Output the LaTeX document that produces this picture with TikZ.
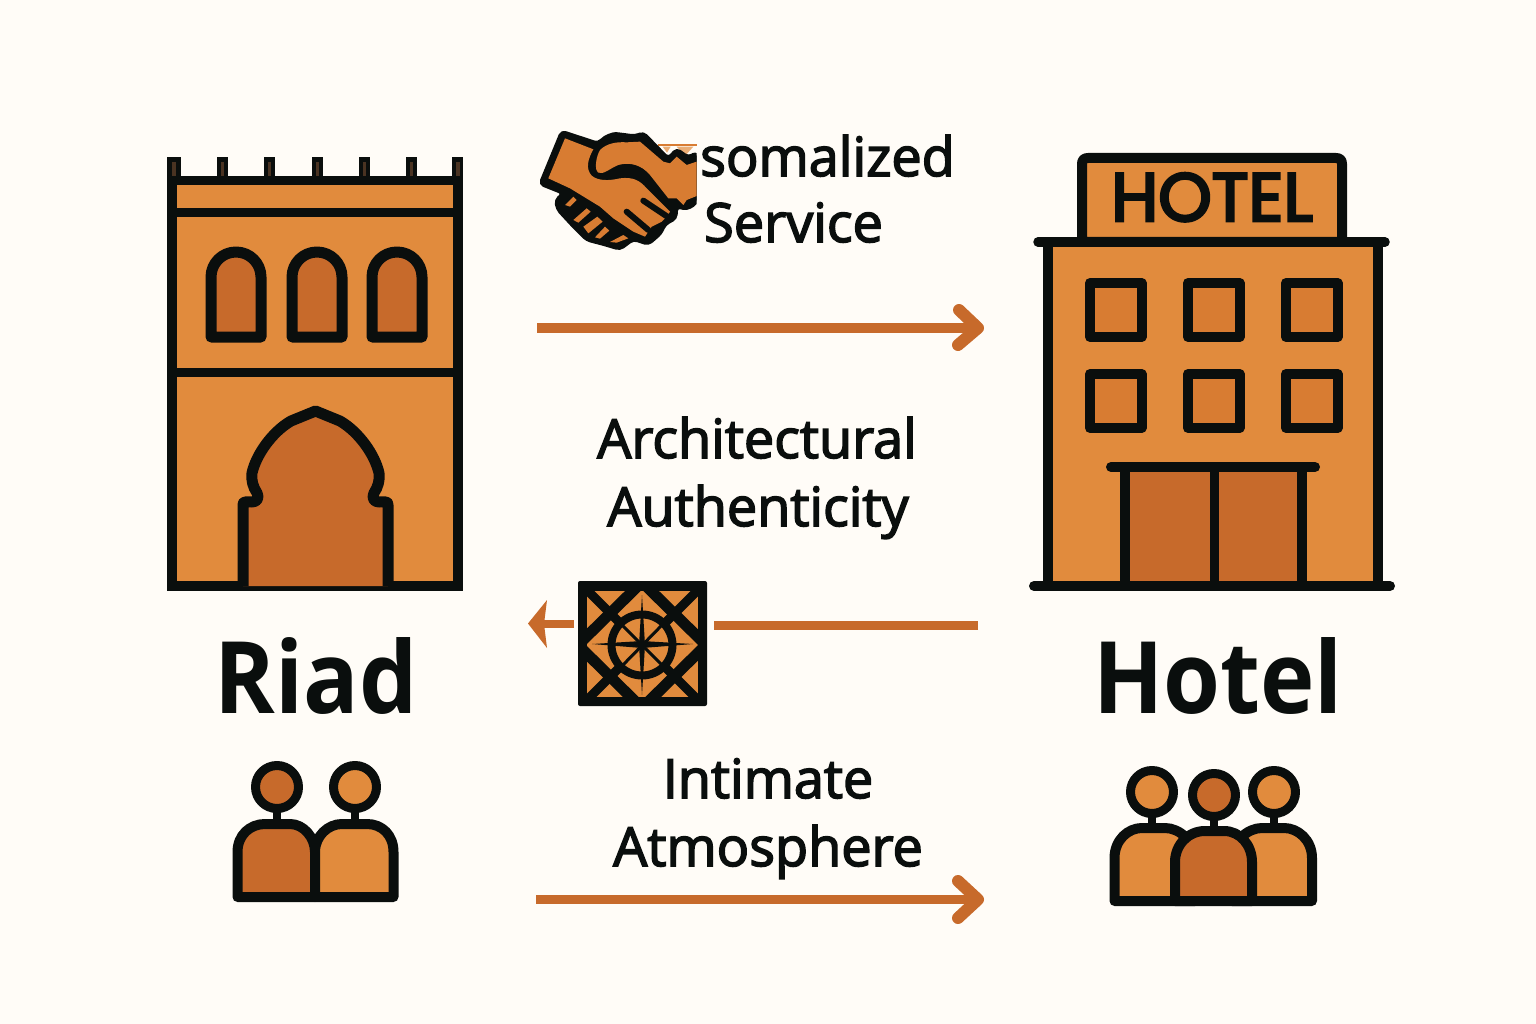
\documentclass[tikz,border=0pt]{standalone}
\usepackage{fontspec}
\setmainfont{Open Sans}
\newfontfamily\signfont[FakeBold=4]{Poppins}
\newfontfamily\labelfont[FakeBold=2.8]{Open Sans}
\newfontfamily\titlefont[FakeStretch=0.92]{Open Sans}
\definecolor{bgc}{HTML}{FFFCF7}
\definecolor{ink}{HTML}{0A0E0D}
\definecolor{mainor}{HTML}{E18B3D}
\definecolor{darkor}{HTML}{C76A2B}
\definecolor{winor}{HTML}{D87C32}
\definecolor{merl}{HTML}{4A3322}
\tikzset{
  x=1pt,y=-1pt,
  inkline/.style={draw=ink,line width=#1,line join=round},
  inkline/.default=10pt,
  small label/.style={font=\fontsize{54}{60}\selectfont\labelfont,text=ink,inner sep=0pt,anchor=base},
  big label/.style={font=\fontsize{100}{110}\selectfont\titlefont\bfseries,text=ink,inner sep=0pt,anchor=base},
  flow/.style={draw=darkor,line width=9.5pt},
  chevron/.style={draw=darkor,line width=12pt,line cap=round,line join=round},
}
\begin{document}
\begin{tikzpicture}
\useasboundingbox[fill=bgc] (0,0) rectangle (1536,1024);

%% ---------- Riad building
\foreach \mx in {222,269,317,364,411}{
  \fill[ink] (\mx-5.5,157) rectangle (\mx+5.5,180);
  \fill[merl] (\mx-1.5,162) rectangle (\mx+1.5,176);
}
\fill[ink] (167,157) rectangle (181,180);
\fill[ink] (452,157) rectangle (463,180);
\fill[merl] (172,162) rectangle (176,178);
\fill[merl] (456,162) rectangle (460,178);
\fill[ink] (167,176) rectangle (463,591);
\fill[mainor] (177,185) rectangle (453,208);
\fill[mainor] (177,217) rectangle (453,368);
\fill[mainor] (177,377) rectangle (453,581);
\foreach \wx/\wf in {211/darkor,292/darkor,372/darkor}{
  \path[inkline=11pt,fill=\wf] (\wx,337) -- (\wx,277) arc[start angle=180,end angle=360,radius=25] -- (\wx+50,337) -- cycle;
}
\path[inkline=11pt,fill=darkor] (243,586) -- (243,505) .. controls (243,501) and (246,502) .. (252,502)
  .. controls (258,502) and (259,497) .. (257,493) .. controls (253,487) and (251,480) .. (252,473)
  .. controls (256,455) and (272,432) .. (291,421) -- (315.5,411) -- (340,421)
  .. controls (359,432) and (375,455) .. (379,473) .. controls (380,480) and (378,487) .. (374,493)
  .. controls (372,497) and (373,502) .. (379,502) .. controls (385,502) and (388,501) .. (388,505)
  -- (388,586);

%% ---------- Hotel building
\path[inkline,fill=mainor] (1082,242) -- (1082,164) .. controls (1082,160) and (1084,158) .. (1088,158)
  -- (1336,158) .. controls (1340,158) and (1342,160) .. (1342,164) -- (1342,242) -- cycle;
\node[inner sep=0pt,anchor=base,text=ink,font=\fontsize{68}{72}\selectfont\signfont] (sign) at (1212,221) {HOTEL};
\fill[mainor] (1048,242) rectangle (1378,586);
\draw[ink,line width=10pt] (1048,242) -- (1048,586);
\draw[ink,line width=10pt] (1378,242) -- (1378,586);
\draw[ink,line width=9.5pt,line cap=round] (1038,242) -- (1385,242);
\foreach \hx in {1090,1188,1286}{
  \foreach \hy in {283,374}{
    \path[inkline,fill=winor] (\hx,\hy) rectangle (\hx+51.5,\hy+54);
  }
}
\fill[darkor] (1125,467) rectangle (1302,586);
\draw[ink,line width=10pt] (1125,467) -- (1125,586);
\draw[ink,line width=9pt] (1214,467) -- (1214,586);
\draw[ink,line width=10pt] (1302,467) -- (1302,586);
\draw[ink,line width=10pt,line cap=round] (1111,467) -- (1315,467);
\draw[ink,line width=10pt,line cap=round] (1034,586) -- (1390,586);

%% ---------- Labels
\node[small label,anchor=base west] (personal) at (700,176) {somalized};
\node[small label,anchor=base west] (service) at (704,242) {Service};
\node[small label] (arch) at (757,458) {Architectural};
\node[small label] (auth) at (758,526) {Authenticity};
\node[small label] (intim) at (768,798) {Intimate};
\node[small label] (atmos) at (768,866) {Atmosphere};
\node[big label] (riad) at (316,713) {Riad};
\node[big label] (hotel) at (1218,713) {Hotel};

%% ---------- Arrows
\coordinate (a1s) at (537,328);
\coordinate (a1e) at (978,328);
\coordinate (a1u) at (959,310);
\coordinate (a1l) at (958,345);
\draw[flow] (a1s) -- (a1e);
\draw[chevron] (a1u) -- (a1e) -- (a1l);
\coordinate (a3s) at (536,899.5);
\coordinate (a3e) at (978,899.5);
\coordinate (a3u) at (958,881);
\coordinate (a3l) at (958,918);
\draw[flow] (a3s) -- (a3e);
\draw[chevron] (a3u) -- (a3e) -- (a3l);

%% ---------- Tile with the backward arrow
\node[minimum width=129pt,minimum height=125pt,inner sep=0pt,fill=ink,rounded corners=2pt] (tile) at (642.5,643.5) {};
\coordinate (a2s) at (978,625);
\coordinate (a2f) at (714,625);
\coordinate (a2t) at (528,623.5);
\coordinate (a2n) at (544,624);
\coordinate (a2g) at (574,624);
\draw[flow,line width=9pt] (a2s) -- (a2f);
\draw[darkor,line width=8pt] (a2g) -- (a2n);
\fill[darkor] (a2t) -- (547,600) -- (a2n) -- (547,648) -- cycle;
\begin{scope}
  \clip (587,591) rectangle (698,697);
  \fill[mainor] (587,591) rectangle (698,697);
  \draw[ink,line width=11pt] (642,582) -- (706,645) -- (642,708) -- (578,645) -- cycle;
  \draw[ink,line width=9pt] (585,588) -- (621,624);
  \draw[ink,line width=9pt] (700,588) -- (664,624);
  \draw[ink,line width=9pt] (585,702) -- (621,666);
  \draw[ink,line width=9pt] (700,702) -- (664,666);
\end{scope}
\draw[ink,line width=8pt] (642,645) circle[radius=30.5];
\fill[ink] (642,595) -- (645,645) -- (642,695) -- (639,645) -- cycle;
\fill[ink] (592,644) -- (642,641) -- (693,644) -- (642,648) -- cycle;
\draw[ink,line width=3pt] (621,624) -- (664,667);
\draw[ink,line width=3pt] (663,624) -- (621,667);

%% ---------- Handshake
\begin{scope}[shift={(520,110)},scale=1/3]
  \fill[winor] (415,103) rectangle (530,108);
  \fill[mainor!70!bgc] (428,110) -- (452,110) -- (441,128) -- cycle;
  \fill[mainor!70!bgc] (470,110) -- (520,110) -- (495,138) -- cycle;
  \clip (0,0) rectangle (530,480);
  \path[draw=ink,fill=ink,line width=3pt,line join=round,rounded corners=4pt] (125,64) -- (235,100) .. controls (255,78) and (280,70) .. (300,72) -- (345,78) -- (370,68)
    -- (430,130) -- (445,145) -- (470,117) -- (505,142) -- (530,127) -- (530,280) -- (500,298) -- (470,290)
    -- (468,325) -- (435,343) -- (423,370) -- (385,403) -- (340,388) -- (300,418) -- (250,403)
    -- (200,390) -- (160,350) -- (112,298) -- (107,270) -- (130,250) -- (60,222) -- cycle;
  \fill[winor] (135,85) -- (220,118) .. controls (205,145) and (195,175) .. (215,197)
    .. controls (235,214) and (270,212) .. (300,205) .. controls (340,200) and (360,212) .. (380,235)
    -- (450,305) -- (440,320) -- (425,335) -- (395,350) -- (375,380) -- (340,365) -- (280,325) -- (240,290)
    -- (150,235) -- (85,205) -- cycle;
  \fill[winor] (240,120) .. controls (260,100) and (290,95) .. (320,97) -- (360,95) -- (430,155) -- (450,160)
    -- (470,140) -- (500,165) -- (530,155) -- (530,258) -- (500,270) -- (490,285) -- (470,265) -- (445,265)
    -- (390,195) .. controls (365,165) and (330,155) .. (295,165) .. controls (270,175) and (250,195) .. (235,188)
    .. controls (222,180) and (228,140) .. (240,120) -- cycle;
  \draw[ink,line width=6pt,line cap=round] (370,272) -- (445,322);
  \draw[ink,line width=6pt,line cap=round] (320,305) -- (385,360);
  \fill[winor] (135,285) -- (160,260) -- (170,270) -- (150,290) -- cycle;
  \fill[winor] (160,330) -- (200,295) -- (212,305) -- (175,338) -- cycle;
  \fill[winor] (190,350) -- (232,320) -- (248,335) -- (205,370) -- cycle;
  \fill[winor] (225,382) -- (255,350) -- (268,362) -- (240,386) -- cycle;
  \fill[winor] (270,396) -- (310,375) -- (325,385) -- (290,398) -- cycle;
\end{scope}

%% ---------- People at the riad
\foreach \pid/\cx/\cf in {a/277/darkor,b/355/mainor}{
  \draw[ink,line width=8pt] (\cx,808) -- (\cx,824);
  \path[inkline=9pt,fill=\cf] (\cx,787) circle[radius=21.5];
}
\path[inkline,fill=darkor] (237.5,897) -- (237.5,852) .. controls (237.5,835) and (250,824) .. (265,824) -- (290,824)
  .. controls (304,824) and (315,838) .. (315,852) -- (315,897) -- cycle;
\path[inkline,fill=mainor] (315,897) -- (315,852) .. controls (315,836) and (328,824) .. (342,824) -- (367,824)
  .. controls (382,824) and (393.5,835) .. (393.5,852) -- (393.5,897) -- cycle;

%% ---------- People at the hotel
\foreach \cx/\cy/\cf/\ny in {1152/792/mainor/828,1214/795/darkor/831,1274/792/mainor/828}{
  \draw[ink,line width=8pt] (\cx,\cy+20) -- (\cx,\ny);
  \path[inkline=9pt,fill=\cf] (\cx,\cy) circle[radius=21.5];
}
\path[inkline,fill=mainor] (1114.5,901) -- (1114.5,858) .. controls (1114.5,840) and (1128,828) .. (1142,828) -- (1165,828)
  .. controls (1180,828) and (1195,842) .. (1195,860) -- (1195,901) -- cycle;
\path[inkline,fill=mainor] (1312,901) -- (1312,858) .. controls (1312,840) and (1298,828) .. (1284,828) -- (1262,828)
  .. controls (1247,828) and (1232,842) .. (1232,860) -- (1232,901) -- cycle;
\path[inkline,fill=darkor] (1175,901) -- (1175,862) .. controls (1175,845) and (1188,831) .. (1205,831) -- (1224,831)
  .. controls (1240,831) and (1252,845) .. (1252,862) -- (1252,901) -- cycle;
\end{tikzpicture}
\end{document}
